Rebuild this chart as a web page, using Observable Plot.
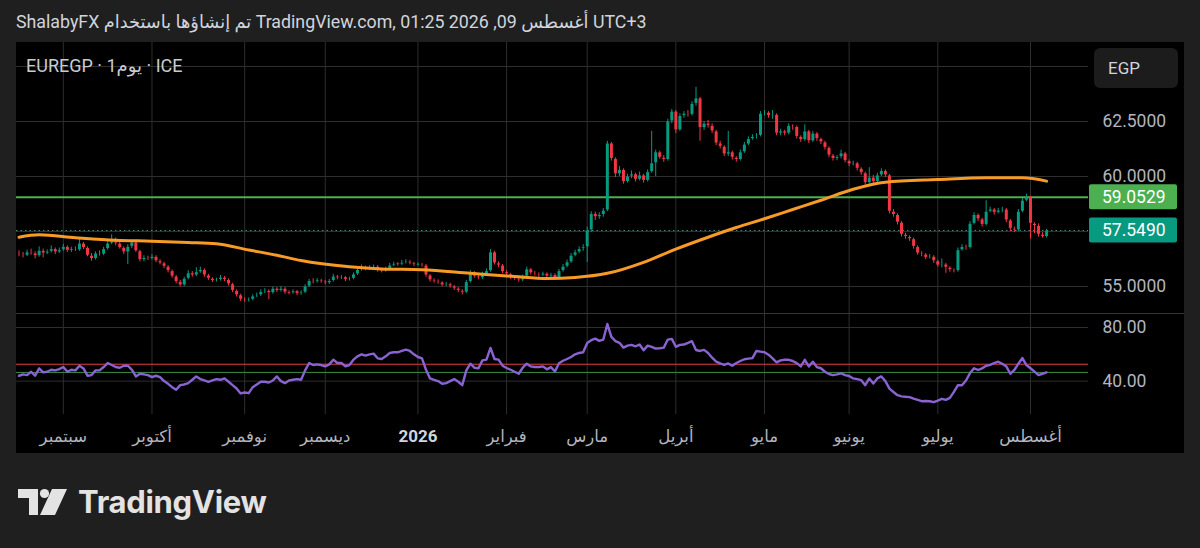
<!DOCTYPE html>
<html><head><meta charset="utf-8">
<script src="https://cdn.jsdelivr.net/npm/d3@7"></script>
<script src="https://cdn.jsdelivr.net/npm/@observablehq/plot@0.6"></script>
<style>
body{margin:0;background:#1f1f1f;width:1200px;height:548px;overflow:hidden;font-family:Roboto,"DejaVu Sans",sans-serif;position:relative}
#hdr{position:absolute;left:16px;top:11px;color:#d1d4dc;font-size:17.8px;white-space:nowrap;direction:ltr}
#panel{position:absolute;left:16px;top:42px;width:1168px;height:411px;background:#000;overflow:hidden}
#price{position:absolute;left:0;top:0}
#rsi{position:absolute;left:0;top:271px;width:1168px;height:140px;border-top:1px solid #363636;box-sizing:border-box}
#legend{position:absolute;left:10px;top:13px;color:#c8cbd2;font-size:18px;direction:ltr;white-space:nowrap}
#cur{position:absolute;left:1078px;top:6px;width:84px;height:40px;background:#1c1c1c;border-radius:6px;color:#d1d4dc;font-size:17px;line-height:40px;box-sizing:border-box;padding-left:14px}
#logo{position:absolute;left:18px;top:483px;display:flex;align-items:center}
#logo span{color:#e3e3e3;font-family:Inter,Lato,sans-serif;font-weight:700;font-size:31px;margin-left:10px;letter-spacing:-0.3px}
</style></head>
<body>
<div id="hdr">ShalabyFX تم إنشاؤها باستخدام TradingView.com, أغسطس 09, 2026 01:25 UTC+3</div>
<div id="panel">
  <div id="price"></div>
  <div id="rsi"></div>
  <div id="legend">EUREGP · 1يوم · ICE</div>
  <div id="cur">EGP</div>
</div>
<div id="logo"><svg width="50" height="28" viewBox="0 0 50 28"><path d="M0 1H20V27H11V10H0Z" fill="#e3e3e3"/><circle cx="26.5" cy="5.5" r="4.6" fill="#e3e3e3"/><path d="M34 1H49L37 27H22Z" fill="#e3e3e3"/></svg><span>TradingView</span></div>
<script>
// ---------- data (EURGEP daily, ICE) ----------
const startDate = "2025-08-15";
const firstOpen = 56.50;
const closes = [
56.45,56.40,56.55,56.50,56.38,56.62,56.50,56.58,56.70,56.55,
56.65,56.80,56.62,56.70,56.65,56.95,56.75,56.40,56.25,56.50,
56.45,56.70,56.95,57.15,56.95,56.75,56.55,56.80,57.00,56.60,
56.20,56.30,56.25,56.35,56.15,56.05,55.90,55.70,55.45,55.20,
55.05,55.35,55.60,55.50,55.65,55.75,55.50,55.35,55.25,55.30,
55.40,55.30,55.10,54.80,54.60,54.40,54.35,54.40,54.55,54.60,
54.75,54.80,54.70,54.90,54.80,54.90,54.72,54.70,54.78,54.66,
54.72,55.00,55.25,55.20,55.28,55.22,55.15,55.25,55.45,55.38,
55.42,55.30,55.35,55.55,55.75,55.88,55.80,55.85,55.90,55.72,
55.70,55.80,55.95,56.02,56.00,56.08,56.12,56.05,55.98,56.00,
55.95,55.50,55.28,55.22,55.18,55.05,55.10,55.00,54.90,54.80,
54.72,55.20,55.62,55.45,55.38,55.55,55.70,56.55,56.05,55.95,
55.65,55.55,55.40,55.35,55.28,55.45,55.78,55.60,55.55,55.50,
55.58,55.45,55.52,55.35,55.70,55.90,56.10,56.40,56.55,56.70,
56.78,57.55,58.30,58.15,58.25,58.45,61.50,60.80,60.10,60.30,
59.75,60.00,60.10,59.85,60.05,59.80,60.20,60.60,61.10,60.85,
60.75,62.50,62.95,62.10,62.75,62.85,62.80,63.30,63.55,62.20,
62.40,62.30,62.05,61.50,61.35,61.00,61.10,60.85,60.75,61.10,
61.45,61.70,61.80,61.85,62.85,62.90,62.75,62.80,61.95,62.05,
61.95,62.30,62.25,61.80,61.65,62.05,61.60,61.95,61.70,61.55,
61.30,60.95,60.80,60.88,61.05,60.70,60.55,60.60,60.35,60.15,
59.70,59.95,59.75,60.05,60.25,60.05,58.40,58.25,57.90,57.35,
57.25,57.15,56.80,56.50,56.45,56.30,56.35,56.15,55.95,56.00,
55.85,55.75,55.70,56.65,56.80,56.75,57.85,58.25,58.05,57.80,
58.40,58.50,58.35,58.45,58.50,58.00,57.62,57.55,58.40,58.90,
59.05,57.85,57.75,57.35,57.25,57.549];
const highs = [
56.62,56.55,56.65,56.70,56.58,56.80,56.70,56.66,56.85,56.75,
56.75,56.92,56.85,56.78,56.80,57.20,57.00,56.80,56.50,56.58,
56.62,56.78,57.05,57.35,57.20,57.00,56.80,56.90,57.10,57.05,
56.65,56.40,56.38,56.45,56.40,56.22,56.10,55.95,55.75,55.50,
55.28,55.42,55.72,55.68,55.85,55.88,55.80,55.55,55.40,55.38,
55.50,55.45,55.35,55.15,54.85,54.65,54.48,54.48,54.62,54.70,
54.85,54.90,54.85,54.98,54.95,55.00,54.95,54.80,54.85,54.82,
54.80,55.08,55.32,55.35,55.36,55.32,55.28,55.32,55.55,55.50,
55.50,55.45,55.42,55.62,55.82,55.98,55.92,55.95,55.98,55.95,
55.80,55.88,56.05,56.10,56.08,56.18,56.22,56.18,56.10,56.08,
56.05,56.00,55.55,55.35,55.30,55.22,55.18,55.15,55.05,54.95,
54.85,55.28,55.72,55.68,55.50,55.65,55.80,56.68,56.60,56.12,
56.00,55.72,55.60,55.48,55.40,55.52,55.88,55.82,55.68,55.62,
55.65,55.62,55.60,55.58,55.78,56.00,56.20,56.50,56.65,56.80,
56.90,57.70,58.40,58.38,58.35,58.55,61.60,61.55,60.85,60.45,
60.35,60.10,60.25,60.15,60.20,60.10,60.30,62.05,61.20,61.15,
60.95,62.60,63.05,63.00,62.85,62.95,63.00,63.40,64.05,63.60,
62.50,62.55,62.40,62.10,61.60,61.40,62.05,61.15,60.90,61.20,
61.55,61.80,61.90,61.95,62.95,63.00,62.95,63.00,62.85,62.15,
62.10,62.40,62.35,62.30,61.85,62.35,62.10,62.05,62.00,61.75,
61.60,61.35,61.00,60.95,61.20,61.10,60.75,60.70,60.65,60.40,
60.20,60.40,60.05,60.15,60.35,60.30,60.10,58.50,58.30,57.95,
57.42,57.30,57.20,56.85,56.58,56.50,56.45,56.40,56.20,56.25,
56.05,55.90,55.80,56.75,56.90,56.88,57.95,58.35,58.30,58.10,
58.90,58.60,58.55,58.55,58.60,58.55,58.05,57.70,58.50,59.00,
59.20,59.10,57.90,57.85,57.45,57.60];
const lows = [
56.35,56.30,56.36,56.42,56.25,56.33,56.30,56.45,56.52,56.45,
56.50,56.60,56.55,56.55,56.60,56.60,56.68,56.35,56.15,56.20,
56.38,56.40,56.65,56.90,56.85,56.70,56.45,56.00,56.72,56.55,
56.12,56.12,56.18,56.20,56.08,55.98,55.82,55.62,55.38,55.12,
54.98,55.00,55.30,55.42,55.45,55.60,55.42,55.28,55.18,55.20,
55.25,55.22,55.02,54.72,54.52,54.32,54.28,54.30,54.35,54.50,
54.55,54.68,54.40,54.65,54.72,54.75,54.65,54.62,54.65,54.58,
54.60,54.68,54.95,55.12,55.15,55.15,55.08,55.10,55.20,55.30,
55.32,55.22,55.25,55.30,55.50,55.70,55.72,55.75,55.80,55.65,
55.62,55.65,55.75,55.90,55.92,55.95,56.02,55.98,55.90,55.92,
55.88,55.42,55.20,55.15,55.10,54.98,55.00,54.92,54.82,54.72,
54.62,54.68,55.15,55.38,55.30,55.32,55.50,55.65,55.98,55.85,
55.58,55.48,55.32,55.28,55.20,55.22,55.40,55.52,55.48,55.42,
55.45,55.38,55.40,55.28,55.30,55.65,55.85,56.05,56.35,56.50,
56.60,56.10,57.45,58.00,58.05,58.15,58.40,60.70,59.95,60.00,
59.65,59.70,59.90,59.75,59.80,59.70,59.75,60.15,60.00,60.78,
60.65,60.70,62.40,61.95,62.05,62.65,62.70,62.75,63.20,61.60,
62.10,62.20,61.95,61.40,61.25,60.90,60.90,60.75,60.65,60.70,
61.05,61.40,61.65,61.70,61.80,62.75,62.65,62.60,61.85,61.85,
61.85,61.90,62.10,61.70,61.55,61.60,61.50,61.55,61.60,61.45,
61.20,60.85,60.70,60.72,60.80,60.62,60.45,60.48,60.25,60.05,
59.60,59.65,59.65,59.70,60.00,59.95,58.30,58.15,57.80,57.25,
57.15,57.05,56.70,56.42,56.35,56.22,56.25,56.05,55.88,55.85,
55.60,55.65,55.62,55.65,56.60,56.65,56.70,57.80,57.95,57.70,
57.75,58.35,58.25,58.30,58.35,57.90,57.50,57.45,57.50,58.35,
58.85,57.15,57.40,57.25,57.20,57.20];
// 200-day moving average, read at selected candles
const maIdx = [0,5,14,24,33,42,49,57,64,70,82,90,100,112,123,131,138,146,155,163,171,178,185,192,199,207,215,228,240,249,255];
const maVal = [57.24,57.35,57.22,57.10,57.06,57.00,56.94,56.66,56.42,56.18,55.90,55.80,55.76,55.60,55.45,55.36,55.41,55.60,56.10,56.70,57.24,57.68,58.08,58.50,58.92,59.42,59.74,59.86,59.94,59.94,59.79];
const rsi = [
44,45,44.5,47,44,49.5,46.5,47,48.5,48,
49,50.5,47,48.5,48,51.5,49.5,44,44.5,48,
48,50.5,53.5,52,50.5,50,51.5,51.5,48.5,43.5,
45.5,45,44.5,43,44,43,40,38,35.5,33.5,
37,37.5,38.5,41,43.5,41.5,40.5,39.5,40.5,41.5,
41,42,39.5,37,34.5,30.8,31.5,31,35.5,37.5,
39.5,39.5,39,40.5,43.5,40,38.5,40.5,41,41.5,
41,48,53.5,52,52.5,52,51,52.5,56,53.5,
53.5,51,52,56,58.5,60,59,60,60.5,57,
56.5,58.5,61,61.5,61.5,62.5,63.5,62.5,60,58,
57,48.5,42,41,40,38,38.5,40,41.5,39.5,
37,48,53,50,49.5,55.5,56,64.8,56.5,56,
51.5,49.8,48.5,47,45.5,50,53,51,50.5,50.5,
51,48.8,50.4,47.2,53.4,55.2,56.5,58,60,61,
61.5,68.5,70.5,71.7,70,71,82.6,73,69.9,68.6,
65,66.5,67,66,67.3,63,66.5,65.5,64.3,64.5,
65,71,71.5,65.6,67,67.3,68.5,69.8,63.2,62.5,
63.3,61,57.5,54.5,53.2,52.1,53.2,51.5,53.5,55,
56.3,56.8,57.2,62.5,62,61.5,59.7,57,54,55.5,
55.9,55.9,55,53.4,51,55.9,51,54.5,50.5,49.6,
47,45.3,44.5,45,45.8,44.5,43.8,42,41.5,40.7,
37,42,38.2,42,43.5,40,34.4,31.9,29.5,28.6,
28.3,28.1,27,26,25,25.2,25,24.3,25.5,26.8,
26,27.5,32,37,36.9,40.5,46,49.6,48.3,49.5,
51.4,52.1,53.5,54.5,52.9,51,45.5,48.3,53,57.2,
52,49.6,47.1,44.5,45.5,46.5];
const monthLabels = ["سبتمبر","أكتوبر","نوفمبر","ديسمبر","2026","فبراير","مارس","أبريل","مايو","يونيو","يوليو","أغسطس"];
const priceTicks = [55, 60, 62.5];
const priceGrid = [55, 57.5, 60, 62.5, 65];
const rsiTicks = [40, 80];
const levelPrice = 59.0529;
const lastPrice = 57.549;
const rsiUpper = 52.6;
const rsiLower = 46.5;

// ---------- build ----------
const UP = "#089981", DOWN = "#f23645", GRID = "#2e2e2e", AXIS = "#b2b5be";
const N = closes.length;
// weekday calendar for the candles
const dates = [];
{ let d = new Date(startDate + "T00:00:00Z");
  while (dates.length < N) { const w = d.getUTCDay(); if (w !== 0 && w !== 6) dates.push(new Date(d)); d = new Date(d.getTime() + 864e5); } }
const monthStarts = [];
dates.forEach((d, i) => { if (i > 0 && d.getUTCMonth() !== dates[i - 1].getUTCMonth()) monthStarts.push(i); });
const months = monthStarts.map((i, k) => ({i, label: monthLabels[k], year: /^\d+$/.test(monthLabels[k])}));

const candles = closes.map((c, i) => {
  const o = i === 0 ? firstOpen : closes[i - 1];
  return {i, open: o, close: c, high: highs[i], low: lows[i], color: c >= o ? UP : DOWN};
});
const xDom = [-0.62, 265.4];
const font = "Roboto, 'DejaVu Sans', sans-serif";

const pricePlot = Plot.plot({
  width: 1168, height: 271, marginLeft: 0, marginRight: 96, marginTop: 0, marginBottom: 0,
  style: {background: "transparent", fontFamily: font, color: AXIS},
  x: {domain: xDom, axis: null},
  y: {domain: [53.773, 66.091], axis: null},
  color: {type: "identity"},
  marks: [
    Plot.ruleY(priceGrid, {stroke: GRID}),
    Plot.ruleX(monthStarts, {stroke: GRID}),
    Plot.ruleY([lastPrice], {stroke: "#4f8e84", strokeDasharray: "1.5,3"}),
    Plot.ruleY([levelPrice], {stroke: "#4caf50", strokeWidth: 2}),
    Plot.ruleX(candles, {x: "i", y1: "low", y2: "high", stroke: "color", strokeWidth: 1}),
    Plot.ruleX(candles, {x: "i", y1: d => Math.min(d.open, d.close), y2: d => Math.max(d.open, d.close), stroke: "color", strokeWidth: 3, insetTop: -0.5, insetBottom: -0.5}),
    Plot.line(maIdx, {x: d => d, y: (d, k) => maVal[k], stroke: "#f79a26", strokeWidth: 3, curve: "monotone-x"}),
    Plot.axisY(priceTicks, {anchor: "right", tickSize: 0, tickPadding: 14, tickFormat: d => d.toFixed(4), fill: AXIS, fontSize: 17.5})
  ]
});
document.getElementById("price").appendChild(pricePlot);

// price labels on the axis, positioned with the plot's own y scale
{
  const ys = pricePlot.scale("y");
  const yf = d3.scaleLinear(ys.domain, ys.range);
  const svg = d3.select(pricePlot);
  [[levelPrice, "#4caf50"], [lastPrice, UP]].forEach(([v, c]) => {
    const g = svg.append("g").attr("text-anchor", "start");
    g.append("rect").attr("x", 1073).attr("y", yf(v) - 12.5).attr("width", 88).attr("height", 25).attr("rx", 2).attr("fill", c);
    g.append("text").attr("x", 1086).attr("y", yf(v)).attr("dy", "0.36em").attr("fill", "#fff")
      .attr("text-anchor", "start").attr("font-size", 17.5).attr("font-family", font).text(v.toFixed(4));
  });
}

const rsiPlot = Plot.plot({
  width: 1168, height: 139, marginLeft: 0, marginRight: 96, marginTop: 0, marginBottom: 39,
  style: {background: "transparent", fontFamily: font, color: AXIS},
  x: {domain: xDom, axis: null},
  y: {domain: [15.1, 89.7], axis: null},
  marks: [
    Plot.ruleY(rsiTicks, {stroke: GRID}),
    Plot.ruleX(monthStarts, {stroke: GRID}),
    Plot.ruleY([rsiUpper], {stroke: "#e2403f", strokeWidth: 1}),
    Plot.ruleY([rsiLower], {stroke: "#3d8f41", strokeWidth: 1}),
    Plot.line(rsi, {x: (d, k) => k, y: d => d, stroke: "#8a63d2", strokeWidth: 2.4}),
    Plot.axisY(rsiTicks, {anchor: "right", tickSize: 0, tickPadding: 14, tickFormat: d => d.toFixed(2), fill: AXIS, fontSize: 17.5}),
    Plot.text(months, {filter: d => !d.year, x: "i", frameAnchor: "bottom", dy: 27, text: "label", fill: AXIS, fontSize: 16.5}),
    Plot.text(months, {filter: d => d.year, x: "i", frameAnchor: "bottom", dy: 27, text: "label", fill: "#d1d4dc", fontSize: 17, fontWeight: "bold"})
  ]
});
document.getElementById("rsi").appendChild(rsiPlot);
</script>
</body></html>
